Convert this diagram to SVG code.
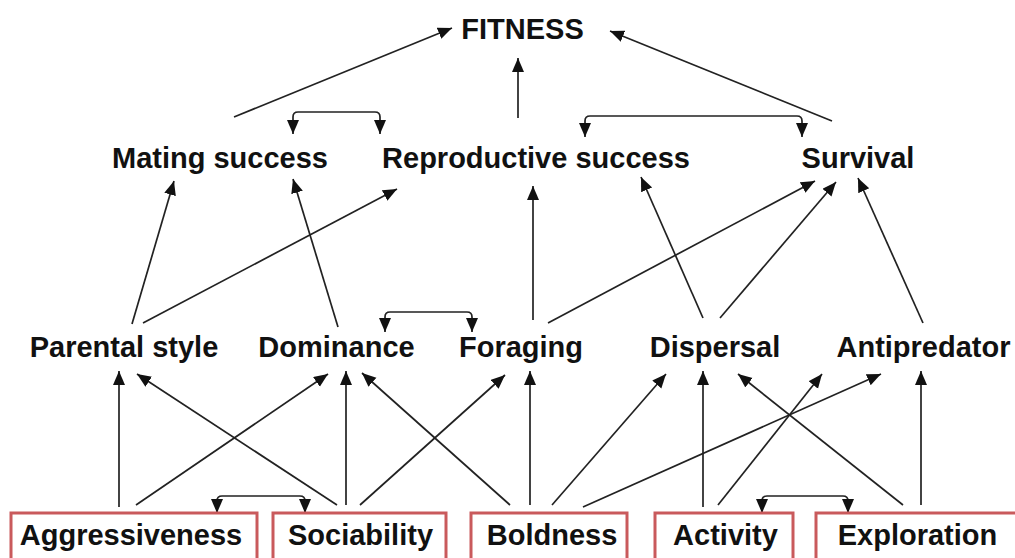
<svg xmlns="http://www.w3.org/2000/svg" width="1015" height="558" viewBox="0 0 1015 558">
<style>
text{font-family:"Liberation Sans",Arial,sans-serif;font-weight:bold;font-size:29px;fill:#111;text-anchor:middle}
.box{fill:none;stroke:#c95a5c;stroke-width:3}
.c line,.c path{stroke:#222;stroke-width:1.7;fill:none;marker-end:url(#ah)}
.c path{marker-start:url(#ah)}
</style>
<defs>
<marker id="ah" markerUnits="userSpaceOnUse" markerWidth="15" markerHeight="13" refX="14" refY="6" orient="auto-start-reverse"><path d="M0,0 L14,6 L0,12 z" fill="#111"/></marker>
</defs>
<rect width="1015" height="558" fill="#fff"/>
<g class="c" id="connectors">
<line x1="234" y1="117" x2="452" y2="28"/>
<line x1="518" y1="118" x2="518" y2="58"/>
<line x1="832" y1="121" x2="610" y2="31"/>
<path d="M293,134 L293,117 Q293,112 298,112 L375,112 Q380,112 380,117 L380,134"/>
<path d="M585,137 L585,121 Q585,116 590,116 L797,116 Q802,116 802,121 L802,137"/>
<line x1="132" y1="324" x2="174" y2="181"/>
<line x1="143" y1="323" x2="397" y2="189"/>
<line x1="338" y1="327" x2="293" y2="179"/>
<line x1="533" y1="320" x2="533" y2="186"/>
<line x1="548" y1="323" x2="815" y2="181"/>
<line x1="703" y1="318" x2="641" y2="177"/>
<line x1="720" y1="318" x2="836" y2="182"/>
<line x1="923" y1="323" x2="858" y2="178"/>
<path d="M385,332 L385,317 Q385,312 390,312 L467,312 Q472,312 472,317 L472,332"/>
<line x1="119" y1="507" x2="119" y2="371"/>
<line x1="136" y1="505" x2="328" y2="374"/>
<line x1="337" y1="505" x2="137" y2="374"/>
<line x1="346" y1="505" x2="346" y2="371"/>
<line x1="360" y1="505" x2="505" y2="375"/>
<line x1="510" y1="505" x2="362" y2="373"/>
<line x1="530" y1="505" x2="530" y2="371"/>
<line x1="552" y1="505" x2="666" y2="374"/>
<line x1="583" y1="507" x2="881" y2="374"/>
<line x1="703" y1="507" x2="703" y2="371"/>
<line x1="718" y1="505" x2="822" y2="374"/>
<line x1="903" y1="505" x2="738" y2="374"/>
<line x1="921" y1="505" x2="921" y2="371"/>
<path d="M217,513 L217,501 Q217,496 222,496 L300,496 Q305,496 305,501 L305,513"/>
<path d="M762,513 L762,501 Q762,496 767,496 L843,496 Q848,496 848,501 L848,513"/>
</g>
<g id="fitness"><text x="522.5" y="39">FITNESS</text></g>
<g id="mating"><text x="220" y="168">Mating success</text></g>
<g id="reproductive"><text x="536" y="168">Reproductive success</text></g>
<g id="survival"><text x="858" y="168">Survival</text></g>
<g id="parental"><text x="124" y="357">Parental style</text></g>
<g id="dominance"><text x="336.5" y="357">Dominance</text></g>
<g id="foraging"><text x="521" y="357">Foraging</text></g>
<g id="dispersal"><text x="715" y="357">Dispersal</text></g>
<g id="antipredator"><text x="923.5" y="357">Antipredator</text></g>
<g id="aggressiveness"><rect class="box" x="11" y="513" width="246" height="60"/><text x="131" y="545">Aggressiveness</text></g>
<g id="sociability"><rect class="box" x="273" y="513" width="173" height="60"/><text x="360.5" y="545">Sociability</text></g>
<g id="boldness"><rect class="box" x="471" y="513" width="156" height="60"/><text x="552" y="545">Boldness</text></g>
<g id="activity"><rect class="box" x="655" y="513" width="138" height="60"/><text x="725.5" y="545">Activity</text></g>
<g id="exploration"><rect class="box" x="816" y="513" width="210" height="60"/><text x="917.5" y="545">Exploration</text></g>
</svg>
